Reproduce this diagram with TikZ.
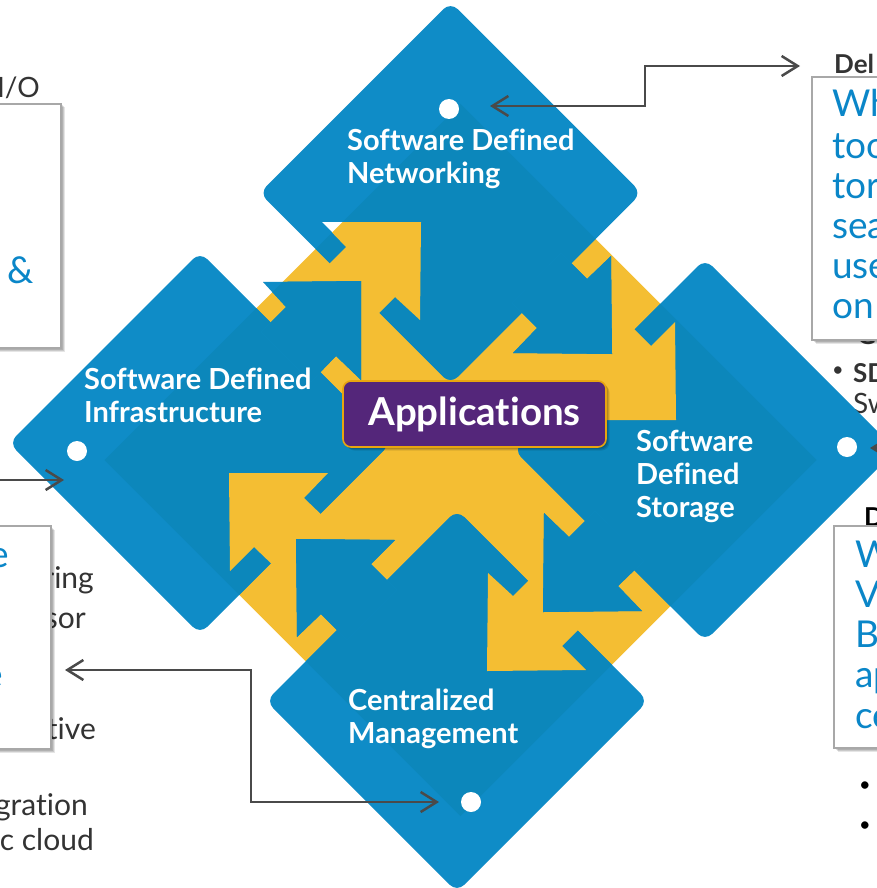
\documentclass[tikz,border=0pt]{standalone}
\usepackage{fontspec}
\setmainfont[Ligatures=NoCommon]{Lato}
\usetikzlibrary{arrows.meta,shadows}
\definecolor{bluelight}{HTML}{0F8CC7}
\definecolor{bluedark}{HTML}{0C87BB}
\definecolor{arrowyellow}{HTML}{F4BE33}
\definecolor{appspurple}{HTML}{54267A}
\definecolor{appsorange}{HTML}{E8A50F}
\definecolor{calloutblue}{HTML}{0A86C8}
\definecolor{linegray}{HTML}{4A4A4A}
\definecolor{boxgray}{HTML}{A8A8A8}
\newcommand{\BigDiamond}{(460.5,104) -- (816.5,460) -- (460.5,816) -- (104.5,460) -- cycle}
\newcommand{\Diamonds}{
  [rounded corners=10pt] (450.5,2) -- (641.5,193) -- (450.5,384) -- (259.5,193) -- cycle
  (200,252) -- (391,443) -- (200,634) -- (9,443) -- cycle
  (705,259) -- (896,450) -- (705,641) -- (514,450) -- cycle
  (457,510) -- (648,701) -- (457,892) -- (266,701) -- cycle
}
\newcommand{\BlueArrows}{
  (512,303) -- (537,328) -- (513,353) -- (612,354) -- (611,256) -- (587,279) -- (561,253) -- cycle
  (595,511) -- (569,537) -- (544,513) -- (543,612) -- (642,611) -- (618,586) -- (644,561) -- cycle
  (296,539) -- (395,540) -- (371,564) -- (397,590) -- (347,640) -- (321,614) -- (297,637) -- cycle
  (361,281) -- (263,282) -- (286,307) -- (261,332) -- (311,382) -- (336,356) -- (361,380) -- cycle
}
\newcommand{\HoleArrows}{
  (322,222) -- (421,222) -- (420,320) -- (395,297) -- (371,321) -- (322,271) -- (346,247) -- cycle
  (675,322) -- (676,420) -- (577,420) -- (600,397) -- (576,373) -- (627,322) -- (651,346) -- cycle
  (488,573) -- (487,671) -- (586,670) -- (562,646) -- (586,622) -- (536,573) -- (513,596) -- cycle
  (229,473) -- (328,473) -- (304,498) -- (328,521) -- (279,571) -- (254,547) -- (230,571) -- cycle
}
\tikzset{
  lab/.style={anchor=north west,inner sep=0pt,align=left,text=white,font=\fontsize{29}{33}\selectfont\bfseries},
  dotn/.style={circle,fill=white,draw=none,minimum size=20pt,inner sep=0pt},
  softshadow/.style={
    drop shadow={shadow xshift=1.5pt,shadow yshift=-1.5pt,fill=black,opacity=0.12},
    drop shadow={shadow xshift=2.5pt,shadow yshift=-2.5pt,fill=black,opacity=0.12},
    drop shadow={shadow xshift=3.5pt,shadow yshift=-3.5pt,fill=black,opacity=0.10}},
  callout/.style={draw=boxgray,line width=1.8pt,fill=white,inner sep=0pt,softshadow},
  bluetxt/.style={anchor=base west,inner sep=0pt,text=calloutblue,font=\fontsize{37}{40}\selectfont},
  bluetxtr/.style={anchor=base east,inner sep=0pt,text=calloutblue,font=\fontsize{37}{40}\selectfont},
  graytxt/.style={anchor=base east,inner sep=0pt,text=black!80,font=\fontsize{30}{33}\selectfont},
  boldtxt/.style={anchor=base west,inner sep=0pt,text=black!80,font=\fontsize{26}{30}\selectfont\bfseries},
  bul/.style={inner sep=0pt,text=black,font=\fontsize{20}{20}\selectfont},
  conn/.style={draw=linegray,line width=2.5pt,
    arrows={Straight Barb[length=16pt,width=20pt,line width=2.5pt]-Straight Barb[length=16pt,width=20pt,line width=2.5pt]}},
  connone/.style={draw=linegray,line width=2.5pt,
    arrows={-Straight Barb[length=16pt,width=20pt,line width=2.5pt]}},
}
\begin{document}
\begin{tikzpicture}[x=1pt,y=-1pt]
\useasboundingbox (0,0) rectangle (877,888);
\fill[white] (0,0) rectangle (877,888);
% texts partly hidden by the call-out boxes
\node[graytxt,font=\fontsize{28}{33}\selectfont] (io) at (40,98) {I/O};
\node[graytxt] (t1) at (94,588) {ring};
\node[graytxt] (t2) at (86,628) {sor};
\node[graytxt] (t3) at (96,739) {tive};
\node[graytxt] (t4) at (88,815) {gration};
\node[graytxt] (t5) at (94,850) {c cloud};
\node[boldtxt] (del) at (834,74) {Del};
\node[boldtxt,text=black!80] (gg) at (857,344) {G};
\node[bul,text=black!80] (b0) at (838,372) {\textbullet};
\node[boldtxt] (sd) at (853,382) {SD};
\node[anchor=base west,inner sep=0pt,text=black!80,font=\fontsize{28}{33}\selectfont] (sw) at (853,413) {Sw};
\node[boldtxt,text=black] (dd) at (864,526) {D};
% the cross
\fill[arrowyellow] \BigDiamond;
\fill[bluelight] \Diamonds;
\begin{scope}
  \clip \BigDiamond;
  \fill[bluedark] \Diamonds;
\end{scope}
\fill[white] (322,222) -- (350,222) -- (340,240) -- cycle;
\begin{scope}
  \clip \BigDiamond;
  \fill[arrowyellow] \HoleArrows;
\end{scope}
\fill[bluelight] \BlueArrows;
\begin{scope}
  \clip \BigDiamond;
  \fill[bluedark] \BlueArrows;
\end{scope}
% call-outs
\path[callout] (-10,104) rectangle (61,348);
\node[bluetxtr] (amp) at (34,283) {\&};
\path[callout] (-10,526) rectangle (51,749);
\node[bluetxtr] (e1) at (9,567) {e};
\node[bluetxtr] (e2) at (3,687) {e};
\path[callout] (812,77) rectangle (890,340);
\node[bluetxt] (r1) at (832,117) {Wh};
\node[bluetxt] (r2) at (832,158) {too};
\node[bluetxt] (r3) at (832,198) {tor};
\node[bluetxt] (r4) at (832,238) {sea};
\node[bluetxt] (r5) at (832,278) {use};
\node[bluetxt] (r6) at (832,318) {on};
\path[callout] (834,526) rectangle (890,748);
\node[bluetxt] (b1) at (855,567) {W};
\node[bluetxt] (b2) at (855,607) {V};
\node[bluetxt] (b3) at (855,647) {B};
\node[bluetxt] (b4) at (855,687) {ap};
\node[bluetxt] (b5) at (855,728) {co};
\node[bul] (b6) at (865,787) {\textbullet};
\node[bul] (b7) at (865,827) {\textbullet};
% dots
\node[dotn] (dottop) at (449,109) {};
\node[dotn] (dotleft) at (77,451) {};
\node[dotn] (dotright) at (847,447) {};
\node[dotn] (dotbottom) at (471,802) {};
% labels
\node[lab] (lnet) at (347,129) {Software Defined\\Networking};
\node[lab] (linf) at (84,368) {Software Defined\\Infrastructure};
\node[lab] (lsto) at (636,430) {Software\\Defined\\Storage};
\node[lab] (lman) at (348,689) {Centralized\\Management};
% centre
\node[draw=appsorange,fill=appspurple,line width=1.6pt,rounded corners=8pt,
  minimum width=263pt,minimum height=66pt,inner sep=0pt,text=white,
  font=\fontsize{38.5}{40}\selectfont\bfseries,softshadow] (apps) at (474.5,414) {Applications};
% connectors
\coordinate (c1a) at (490,106);
\coordinate (c1b) at (800,66);
\coordinate (c2a) at (-5,480);
\coordinate (c2b) at (64,480);
\coordinate (c3a) at (65,670);
\coordinate (c3b) at (439,802);
\coordinate (c4a) at (885,448);
\coordinate (c4b) at (870,448);
\draw[conn] (c1a) -- (645,106) -- (645,66) -- (c1b);
\draw[connone] (c2a) -- (c2b);
\draw[conn] (c3a) -- (251,670) -- (251,802) -- (c3b);
\draw[connone] (c4a) -- (c4b);
\end{tikzpicture}
\end{document}
